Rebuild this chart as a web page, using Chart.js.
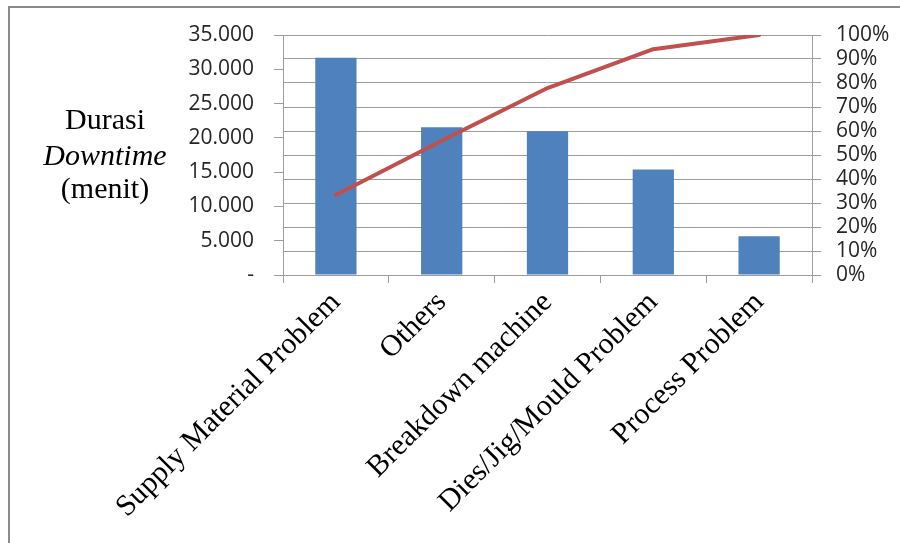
<!DOCTYPE html>
<html>
<head>
<meta charset="utf-8">
<script src="https://cdn.jsdelivr.net/npm/chart.js@4/dist/chart.umd.min.js"></script>
<style>
  html, body { margin: 0; padding: 0; background: #fff; }
  #wrap { position: relative; width: 900px; height: 543px; overflow: hidden; }
  #frame { position: absolute; left: 8px; top: 6px; width: 900px; height: 600px;
           border-left: 2px solid #8a8a8a; border-top: 2px solid #8a8a8a; }
  canvas { position: absolute; left: 0; top: 0; }
</style>
</head>
<body>
<div id="wrap">
  <div id="frame"></div>
  <canvas id="pareto" width="900" height="543"></canvas>
</div>
<script>
/* Pareto downtime chart */

const categories = ['Supply Material Problem', 'Others', 'Breakdown machine', 'Dies/Jig/Mould Problem', 'Process Problem'];
const durasi = [31700, 21550, 20950, 15400, 5650];          // minutes
const kumulatif = [33.3, 55.9, 77.9, 94.1, 100];           // percent
const durasiTickLabels = ['-', '5.000', '10.000', '15.000', '20.000', '25.000', '30.000', '35.000'];
const axisTitle = ['Durasi', 'Downtime', '(menit)'];

const BAR = '#4F81BD';
const LINE = '#C0504D';
const GRID = '#9c9c9c';
const TICK_FONT = { family: "'Open Sans', sans-serif", size: 21, lineHeight: 1 };
const CAT_FONT = { family: "'Liberation Serif', 'Times New Roman', serif", size: 30 };

// y axis title: three lines, middle one italic
const titlePlugin = {
  id: 'yTitle',
  afterDraw(chart) {
    const ctx = chart.ctx;
    const base = [129, 165, 198];
    ctx.save();
    ctx.fillStyle = '#000';
    ctx.textAlign = 'center';
    ctx.textBaseline = 'alphabetic';
    axisTitle.forEach((t, i) => {
      ctx.font = (i === 1 ? 'italic ' : '') + "30px 'Liberation Serif', 'Times New Roman', serif";
      ctx.fillText(t, 105, base[i]);
    });
    ctx.restore();
  }
};

function pin(w, h) {
  return scale => {
    if (w !== null) scale.width = w;
    if (h !== null) scale.height = h;
    scale.paddingTop = 0; scale.paddingBottom = 0;
    scale.paddingLeft = 0; scale.paddingRight = 0;
  };
}

new Chart(document.getElementById('pareto'), {
  type: 'bar',
  data: {
    labels: categories,
    datasets: [
      {
        type: 'line',
        data: kumulatif,
        yAxisID: 'y1',
        borderColor: LINE,
        borderWidth: 4,
        borderCapStyle: 'round',
        borderJoinStyle: 'round',
        pointRadius: 0,
        tension: 0,
        fill: false,
        order: 0
      },
      {
        type: 'bar',
        data: durasi,
        yAxisID: 'y',
        backgroundColor: BAR,
        categoryPercentage: 1,
        barPercentage: 0.39,
        order: 1
      }
    ]
  },
  options: {
    responsive: false,
    animation: false,
    layout: { padding: { top: 35, right: 0, bottom: 0, left: 0 } },
    plugins: { legend: { display: false }, tooltip: { enabled: false } },
    scales: {
      x: {
        afterFit: pin(null, 268),
        grid: { offset: true, drawOnChartArea: false, drawTicks: true, tickLength: 8, color: GRID },
        border: { color: GRID },
        ticks: { color: '#000', font: CAT_FONT, minRotation: 45, maxRotation: 45, padding: 2, autoSkip: false }
      },
      y: {
        position: 'left',
        min: 0, max: 35000,
        afterFit: pin(283, null),
        grid: { drawOnChartArea: false, drawTicks: true, tickLength: 9, color: GRID },
        border: { color: GRID },
        ticks: { stepSize: 5000, color: '#262626', font: TICK_FONT, padding: 20, autoSkip: false,
                 callback: (v, i) => durasiTickLabels[i] }
      },
      y1: {
        position: 'right',
        min: 0, max: 100,
        afterFit: pin(88, null),
        grid: { drawOnChartArea: true, drawTicks: true, tickLength: 9, color: GRID },
        border: { color: GRID },
        ticks: { stepSize: 10, color: '#262626', font: TICK_FONT, padding: 15, autoSkip: false,
                 callback: v => v + '%' }
      }
    }
  },
  plugins: [titlePlugin]
});
</script>
</body>
</html>
